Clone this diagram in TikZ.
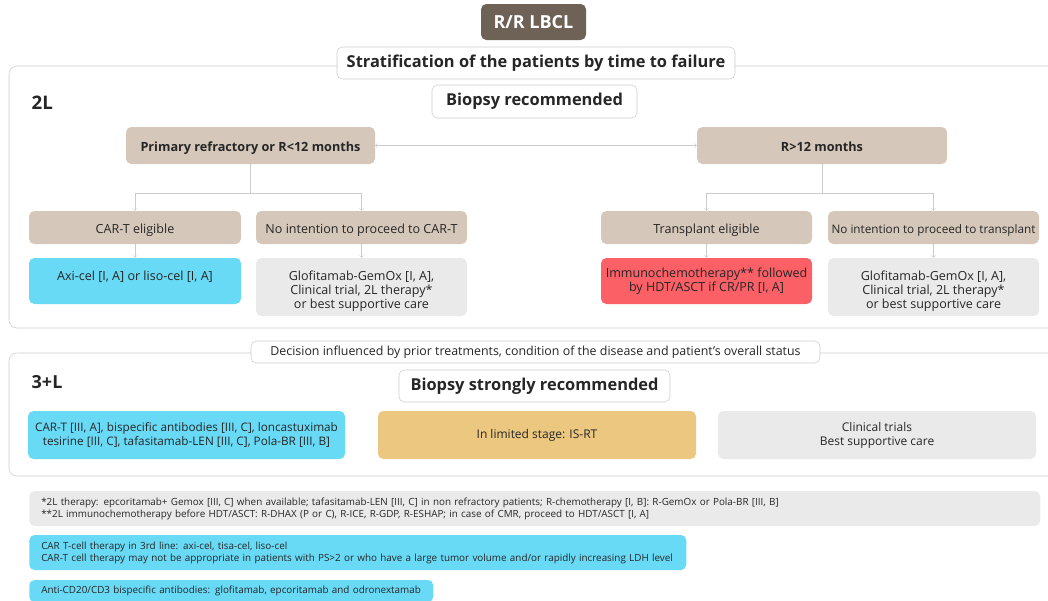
\documentclass[tikz,border=0pt]{standalone}
\usepackage{fontspec}
\setmainfont{Open Sans}
\usetikzlibrary{arrows}
\definecolor{umber}{RGB}{110, 97, 85}
\definecolor{sand}{RGB}{213, 200, 186}
\definecolor{skyblue}{RGB}{104, 218, 246}
\definecolor{coral}{RGB}{250, 96, 102}
\definecolor{mustard}{RGB}{235, 199, 127}
\definecolor{mist}{RGB}{234, 234, 234}
\definecolor{rim}{RGB}{204, 204, 204}
\definecolor{ink}{RGB}{38, 38, 38}

\tikzset{
  size/.style 2 args={minimum width=#1*0.75pt, minimum height=#2*0.75pt},
  box/.style={rounded corners=4pt, align=center, inner sep=1pt, text=ink},
  heading/.style={box, draw=rim, fill=white, font=\bfseries\fontsize{12.3}{14}\selectfont},
  tanbox/.style={box, fill=sand, text height=1.6ex, text depth=0pt, font=\fontsize{9.4}{11}\selectfont},
  tanhead/.style={tanbox, font=\bfseries\fontsize{9.5}{11}\selectfont},
  plain/.style={box, font=\fontsize{9.4}{10.5}\selectfont},
  note/.style={box, anchor=west, align=left, inner xsep=9pt, font=\fontsize{7.4}{9}\selectfont},
  frame/.style={draw=rim, rounded corners=6pt},
  link/.style={draw=rim, thin, >=to},
}

\begin{document}
\begin{tikzpicture}[x=0.75pt, y=-0.75pt]
  % Frame to fix the page size:
  \useasboundingbox (0, 0) rectangle (1048, 600);
  \draw[frame] (9, 66) rectangle (1070, 328);
  \draw[frame] (9, 353) rectangle (1070, 476);

  \node[box, fill=umber, text=white, size={105}{36}, font=\bfseries\fontsize{13.5}{15}\selectfont] (title) at (533.5, 22) {R/R LBCL};
  \node[heading, size={398}{32}] (strat) at (536, 63) {Stratification of the patients by time to failure};
  \node[heading, size={205}{33}] (biopsy) at (534.5, 101.5) {Biopsy recommended};
  \node[anchor=west, text=ink, font=\bfseries\fontsize{14}{16}\selectfont] (second) at (27, 103) {2L};

  % 2L branches
  \node[tanhead, size={249}{37}] (early) at (250.5, 145.5) {Primary refractory or R<12 months};
  \node[tanhead, size={250}{37}] (late) at (822, 145.5) {R>12 months};
  \draw[link, <->] (early) -- (late);

  \node[tanbox, size={212}{33}] (cart) at (135, 227.5) {CAR-T eligible};
  \node[tanbox, size={211}{33}] (nocart) at (361.5, 227.5) {No intention to proceed to CAR-T};
  \node[plain, fill=skyblue, size={212}{46}] (axicel) at (135, 281) {Axi-cel [I, A] or liso-cel [I, A]\\[-2pt]};
  \node[plain, fill=mist, size={211}{58}] (glofa) at (361.5, 287) {\rule{0pt}{13pt}Glofitamab-GemOx [I, A],\\Clinical trial, 2L therapy*\\or best supportive care};

  \node[tanbox, size={211}{33}] (tpl) at (706.5, 227.5) {Transplant eligible};
  \node[tanbox, size={211}{33}, font=\fontsize{8.8}{11}\selectfont] (notpl) at (933.5, 227.5) {No intention to proceed to transplant};
  \node[plain, fill=coral, size={211}{46}] (immuno) at (706.5, 281) {Immunochemotherapy** followed\\by HDT/ASCT if CR/PR [I, A]};
  \node[plain, fill=mist, size={211}{58}] (glofb) at (933.5, 287) {\rule{0pt}{13pt}Glofitamab-GemOx [I, A],\\Clinical trial, 2L therapy*\\or best supportive care};

  \coordinate (earlyfork) at (250.5, 193);
  \coordinate (latefork) at (822, 193);
  \draw[link] (early) -- (earlyfork);
  \draw[link, ->] (earlyfork) -| (cart);
  \draw[link, ->] (earlyfork) -| (nocart);
  \draw[link] (late) -- (latefork);
  \draw[link, ->] (latefork) -| (tpl);
  \draw[link, ->] (latefork) -| (notpl);
  \draw[link, ->] (cart) -- (axicel);
  \draw[link, ->] (nocart) -- (glofa);
  \draw[link, ->] (tpl) -- (immuno);
  \draw[link, ->] (notpl) -- (glofb);

  % 3+L
  \node[box, draw=rim, fill=white, size={569}{22}, font=\fontsize{9.3}{11}\selectfont] (decision) at (535.5, 352) {Decision influenced by prior treatments, condition of the disease and patient's overall status};
  \node[anchor=west, text=ink, font=\bfseries\fontsize{13.5}{16}\selectfont] (third) at (27, 382) {3+L};
  \node[heading, size={271}{32}] (strong) at (534.5, 386) {Biopsy strongly recommended};
  \node[plain, fill=skyblue, size={317}{48}, font=\fontsize{8.8}{10}\selectfont] (cart3) at (186.5, 435) {CAR-T [III, A], bispecific antibodies [III, C], loncastuximab\\tesirine [III, C], tafasitamab-LEN [III, C], Pola-BR [III, B]};
  \node[plain, fill=mustard, size={318}{48}, font=\fontsize{9}{10.5}\selectfont] (limited) at (537, 435) {In limited stage: IS-RT};
  \node[plain, fill=mist, size={318}{48}, font=\fontsize{9}{10.5}\selectfont] (trials) at (877, 435) {Clinical trials\\Best supportive care};

  % footnotes
  \node[note, fill=mist, size={1011}{35}, text width=1011*0.75pt-18pt] (starnote) at (29, 508.5) {*2L therapy: epcoritamab+ Gemox [III, C] when available; tafasitamab-LEN [III, C] in non refractory patients; R-chemotherapy [I, B]: R-GemOx or Pola-BR [III, B]\\{}**2L immunochemotherapy before HDT/ASCT: R-DHAX (P or C), R-ICE, R-GDP, R-ESHAP; in case of CMR, proceed to HDT/ASCT [I, A]};
  \node[note, fill=skyblue, size={657}{35}, text width=657*0.75pt-18pt] (carnote) at (29, 552.5) {CAR T-cell therapy in 3rd line: axi-cel, tisa-cel, liso-cel\\CAR-T cell therapy may not be appropriate in patients with PS>2 or who have a large tumor volume and/or rapidly increasing LDH level};
  \node[note, fill=skyblue, size={404}{22}, text width=404*0.75pt-18pt] (bsnote) at (29, 591) {Anti-CD20/CD3 bispecific antibodies: glofitamab, epcoritamab and odronextamab};
\end{tikzpicture}
\end{document}
